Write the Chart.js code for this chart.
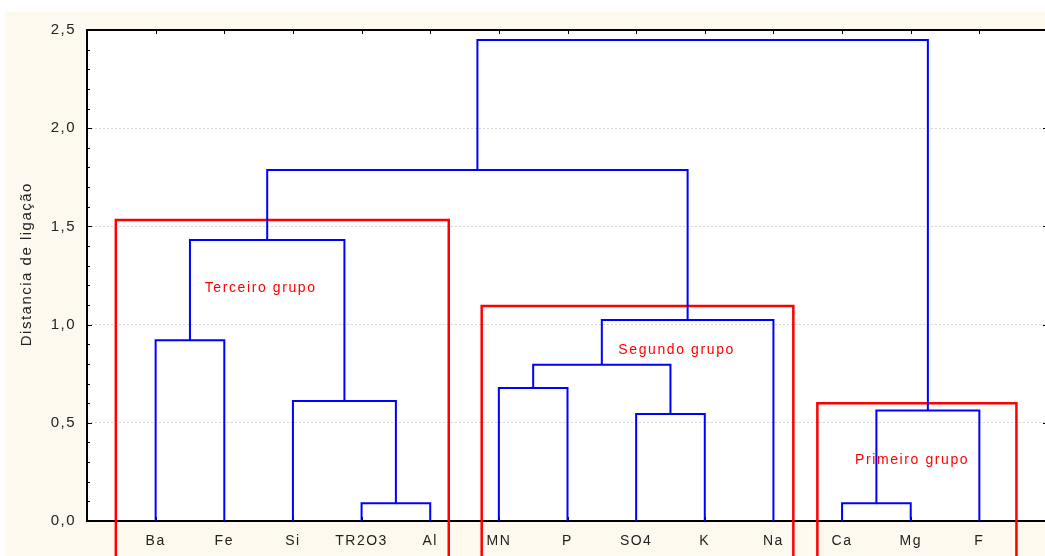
<!DOCTYPE html>
<html>
<head>
<meta charset="utf-8">
<script src="https://cdn.jsdelivr.net/npm/chart.js@4"></script>
<style>
  html, body { margin: 0; padding: 0; overflow: hidden; background: #fff; }
  #wrap { width: 1100px; height: 600px; position: relative; }
</style>
</head>
<body>
<div id="wrap"><canvas id="dendro"></canvas></div>
<script>
// leaves in plotting order
const leaves = ["Ba", "Fe", "Si", "TR2O3", "Al", "MN", "P", "SO4", "K", "Na", "Ca", "Mg", "F"];

// linkage: [left node, right node, distance]; leaves are 0..12, merges are 13+
const merges = [
    [3, 4, 0.09],     // 13 TR2O3 + Al
    [10, 11, 0.09],   // 14 Ca + Mg
    [7, 8, 0.545],    // 15 SO4 + K
    [14, 12, 0.562],  // 16 (Ca,Mg) + F
    [2, 13, 0.611],   // 17 Si + (TR2O3,Al)
    [5, 6, 0.677],    // 18 MN + P
    [18, 15, 0.796],  // 19
    [0, 1, 0.92],     // 20 Ba + Fe
    [19, 9, 1.023],   // 21 + Na
    [20, 17, 1.431],  // 22
    [22, 21, 1.787],  // 23
    [23, 16, 2.449]   // 24
];

// group boxes: [x from, x to, top]
const groupBoxes = [
    [0.42, 5.27, 1.533],
    [5.75, 10.29, 1.095],
    [10.64, 13.54, 0.60]
];
const groupNames = ["Terceiro grupo", "Segundo grupo", "Primeiro grupo"];
const groupLabelX = [2.53, 8.59, 12.02];
const groupLabelY = [1.186, 0.871, 0.311];

const yTickLabels = ["0,0", "0,5", "1,0", "1,5", "2,0", "2,5"];

// node positions
const nodeX = leaves.map((_, i) => i + 1);
const nodeY = leaves.map(() => 0);
merges.forEach(m => {
    nodeX.push((nodeX[m[0]] + nodeX[m[1]]) / 2);
    nodeY.push(m[2]);
});

const datasets = [];
merges.forEach(m => {
    const a = m[0], b = m[1], h = m[2];
    datasets.push({
        data: [
            { x: nodeX[a], y: nodeY[a] },
            { x: nodeX[a], y: h },
            { x: nodeX[b], y: h },
            { x: nodeX[b], y: nodeY[b] }
        ],
        borderColor: "#0000ff",
        borderWidth: 2,
        pointRadius: 0,
        tension: 0,
        fill: false
    });
});
groupBoxes.forEach(g => {
    datasets.push({
        data: [
            { x: g[0], y: -0.45 },
            { x: g[0], y: g[2] },
            { x: g[1], y: g[2] },
            { x: g[1], y: -0.45 }
        ],
        borderColor: "#ff0000",
        borderWidth: 2.5,
        pointRadius: 0,
        tension: 0,
        fill: false,
        clip: false
    });
});

const FONT = "'Liberation Sans', Arial, sans-serif";

const framePlugin = {
    id: "frame",
    beforeDraw: (chart) => {
        const { ctx, chartArea: ca } = chart;
        ctx.letterSpacing = "1.5px";
        ctx.save();
        ctx.fillStyle = "#fdf9ee";
        ctx.fillRect(5, 12, chart.width, chart.height);
        ctx.fillStyle = "#ffffff";
        ctx.fillRect(ca.left, ca.top, ca.right - ca.left, ca.bottom - ca.top);
        ctx.restore();
    },
    beforeDatasetsDraw: (chart) => {
        const { ctx, chartArea: ca, scales } = chart;
        ctx.save();
        ctx.strokeStyle = "#000";
        ctx.lineWidth = 1;
        // inward ticks
        ctx.beginPath();
        for (let i = 1; i <= leaves.length; i++) {
            const px = Math.round(scales.x.getPixelForValue(i)) + 0.5;
            ctx.moveTo(px, ca.top); ctx.lineTo(px, ca.top + 4);
            ctx.moveTo(px, ca.bottom); ctx.lineTo(px, ca.bottom - 4);
        }
        for (let v = 0; v <= 25; v++) {
            const py = Math.round(scales.y.getPixelForValue(v / 10)) + 0.5;
            const len = v % 5 === 0 ? 5 : 3;
            ctx.moveTo(ca.left, py); ctx.lineTo(ca.left + len, py);
            ctx.moveTo(ca.right, py); ctx.lineTo(ca.right - len, py);
        }
        ctx.stroke();
        ctx.lineWidth = 2;
        ctx.strokeRect(ca.left, ca.top, ca.right - ca.left, ca.bottom - ca.top);
        ctx.restore();
    },
    afterDatasetsDraw: (chart) => {
        const { ctx, scales } = chart;
        ctx.save();
        ctx.font = "14px " + FONT;
        ctx.letterSpacing = "1.6px";
        ctx.fillStyle = "#ff0000";
        ctx.textAlign = "center";
        ctx.textBaseline = "middle";
        groupNames.forEach((name, i) => {
            ctx.fillText(name,
                scales.x.getPixelForValue(groupLabelX[i]),
                scales.y.getPixelForValue(groupLabelY[i]));
        });
        ctx.restore();
    }
};

const ctx = document.getElementById("dendro").getContext("2d");
new Chart(ctx, {
    type: "line",
    data: { datasets: datasets },
    plugins: [framePlugin],
    options: {
        responsive: true,
        maintainAspectRatio: false,
        animation: false,
        layout: { padding: { top: 30, right: 52, left: 0, bottom: 0 } },
        plugins: {
            legend: { display: false },
            tooltip: { enabled: false }
        },
        scales: {
            x: {
                type: "linear",
                min: 0,
                max: leaves.length + 1,
                afterFit: (scale) => { scale.height = 79; },
                grid: { display: false, drawTicks: false },
                border: { display: false },
                ticks: {
                    stepSize: 1,
                    autoSkip: false,
                    maxRotation: 0,
                    padding: 12,
                    color: "#222",
                    font: { family: FONT, size: 14 },
                    callback: (v) => leaves[v - 1] || ""
                }
            },
            y: {
                type: "linear",
                min: 0,
                max: 2.5,
                afterFit: (scale) => { scale.width = 87; },
                grid: {
                    drawTicks: false,
                    lineWidth: 1,
                    color: (c) => {
                        const v = Math.round(c.tick.value * 10);
                        return (v % 5 === 0 && v > 0 && v < 25) ? "#d6d6d6" : "rgba(0,0,0,0)";
                    }
                },
                border: { display: false, dash: [2, 2] },
                title: {
                    display: true,
                    text: "    Distancia de ligação",
                    color: "#222",
                    font: { family: FONT, size: 15 },
                    padding: { top: 18, bottom: 0 }
                },
                ticks: {
                    stepSize: 0.1,
                    autoSkip: false,
                    padding: 11,
                    color: "#222",
                    font: { family: FONT, size: 15 },
                    callback: (v) => {
                        const k = Math.round(v * 10);
                        return k % 5 === 0 ? yTickLabels[k / 5] : "";
                    }
                }
            }
        }
    }
});
</script>
</body>
</html>
